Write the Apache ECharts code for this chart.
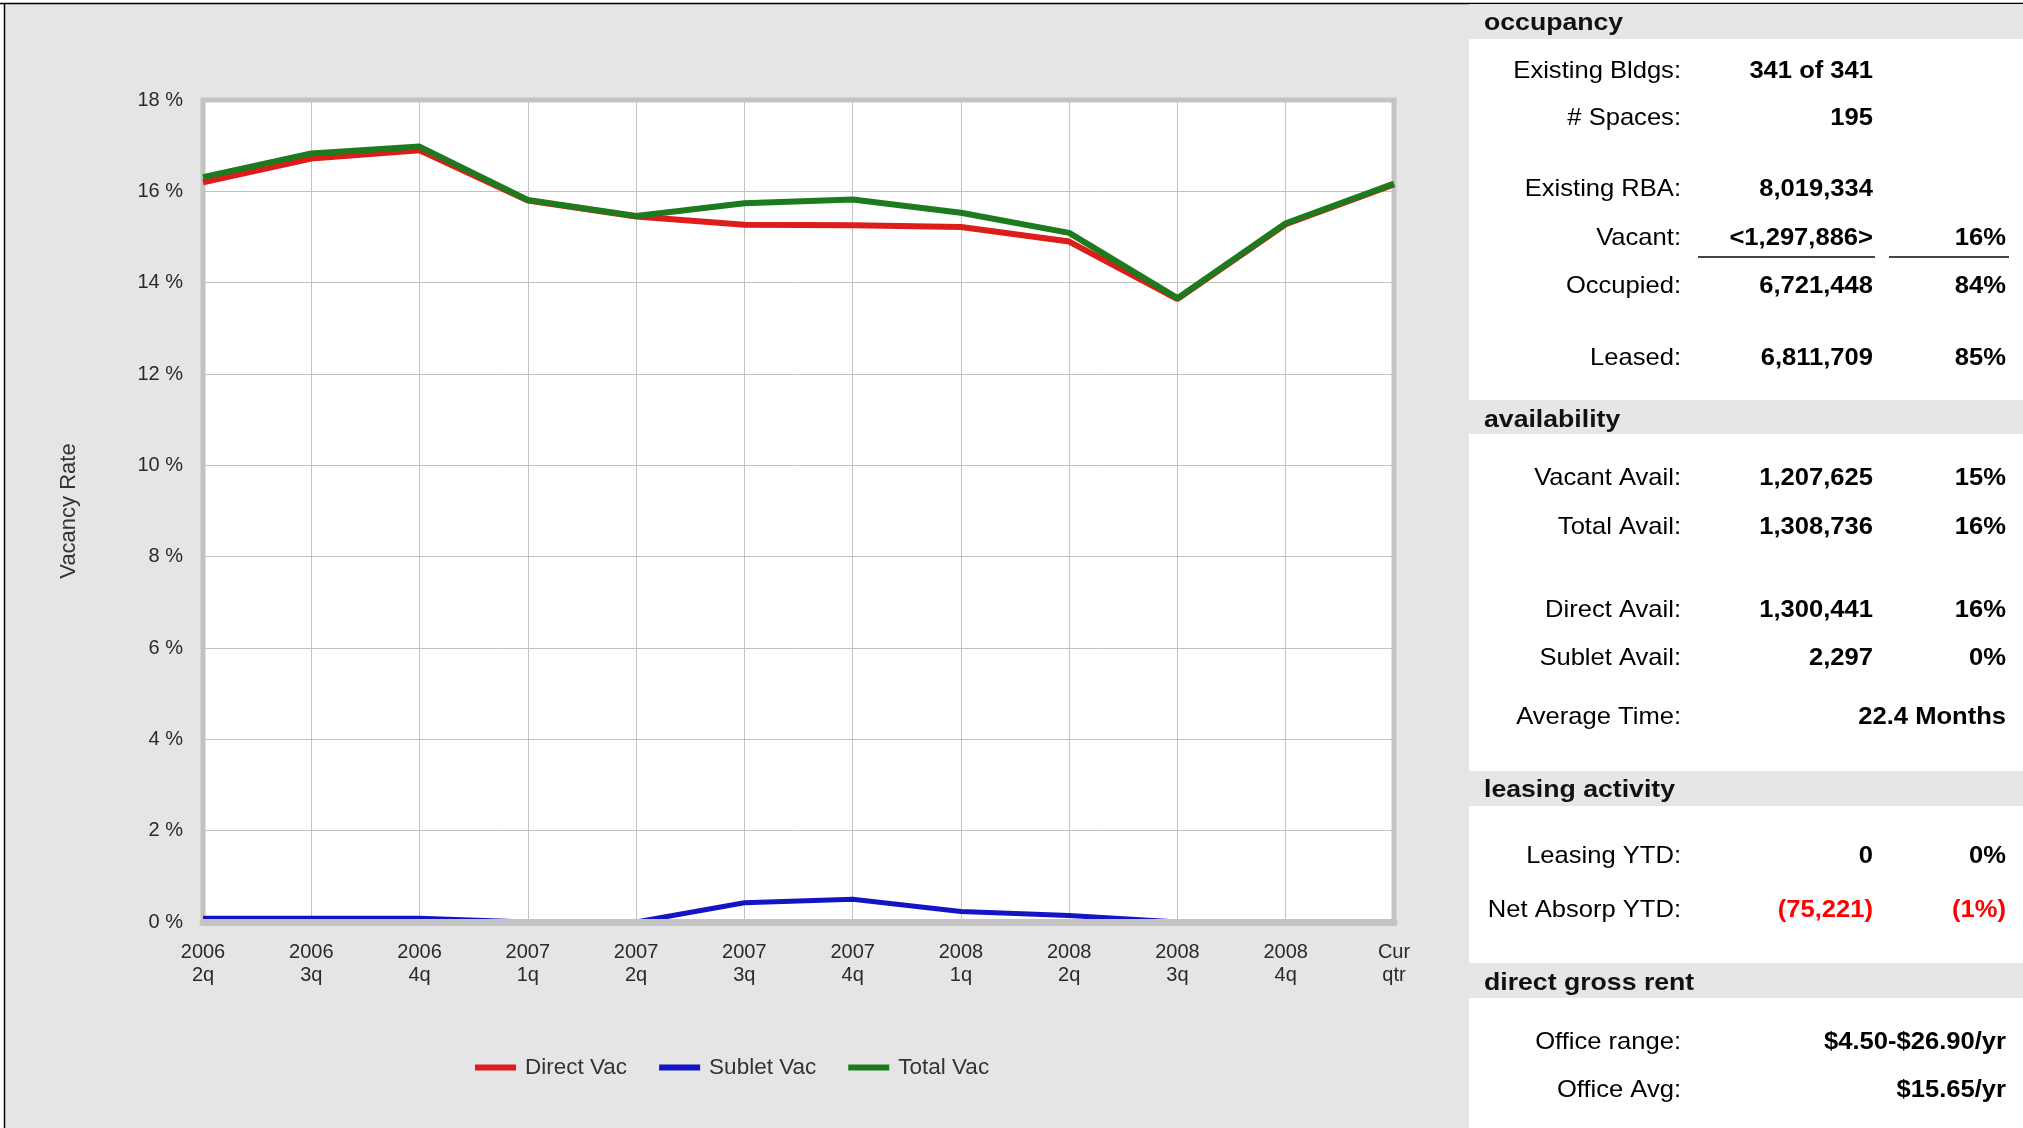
<!DOCTYPE html>
<html><head><meta charset="utf-8">
<script src="https://cdn.jsdelivr.net/npm/echarts@6/dist/echarts.min.js"></script>
<style>html,body{margin:0;padding:0;background:#fff;overflow:hidden}#c{width:2023px;height:1128px}</style>
</head><body><div id="c"></div>
<script>
// ---- chart data ----
const categories = ['2006\n2q','2006\n3q','2006\n4q','2007\n1q','2007\n2q','2007\n3q','2007\n4q','2008\n1q','2008\n2q','2008\n3q','2008\n4q','Cur\nqtr'];
const directVac = [16.20, 16.72, 16.90, 15.80, 15.45, 15.27, 15.26, 15.22, 14.90, 13.64, 15.28, 16.15];
const subletVac = [0.08, 0.08, 0.08, 0, 0, 0.42, 0.50, 0.23, 0.14, 0, 0, 0];
const totalVac  = [16.31, 16.83, 16.98, 15.81, 15.46, 15.74, 15.82, 15.53, 15.09, 13.66, 15.30, 16.17];
const seriesNames = ['Direct Vac', 'Sublet Vac', 'Total Vac'];
const yMin = 0, yMax = 18, yStep = 2;

// ---- side panel content ----
const sectionTitles = ['occupancy', 'availability', 'leasing activity', 'direct gross rent'];
const occupancyRows = [
  ['Existing Bldgs:', '341 of 341', ''],
  ['# Spaces:', '195', ''],
  ['Existing RBA:', '8,019,334', ''],
  ['Vacant:', '<1,297,886>', '16%'],
  ['Occupied:', '6,721,448', '84%'],
  ['Leased:', '6,811,709', '85%']
];
const availabilityRows = [
  ['Vacant Avail:', '1,207,625', '15%'],
  ['Total Avail:', '1,308,736', '16%'],
  ['Direct Avail:', '1,300,441', '16%'],
  ['Sublet Avail:', '2,297', '0%'],
  ['Average Time:', '', '22.4 Months']
];
const leasingRows = [
  ['Leasing YTD:', '0', '0%'],
  ['Net Absorp YTD:', '(75,221)', '(1%)']
];
const rentRows = [
  ['Office range:', '', '$4.50-$26.90/yr'],
  ['Office Avg:', '', '$15.65/yr']
];
const negativeRows = ['Net Absorp YTD:'];

// ---- layout (positions only) ----
const L = {
  panelX: 1469, headerTextX: 1484, labelRight: 1681, valueRight: 1873, pctRight: 2006,
  headerBands: [[4, 39], [400, 434], [771, 806], [963, 998]],
  headerTextY: [23, 420, 790, 983],
  rowY: [
    [71, 118, 189, 238, 286, 358],
    [478, 527, 610, 658, 717],
    [856, 910],
    [1042, 1090]
  ],
  underlineY: 257
};
const FONT = 'Liberation Sans, Arial, sans-serif';

function txt(text, x, y, align, bold, color, size, sx) {
  return {
    type: 'text', x: x, y: y, scaleX: sx || 1.065, silent: true, z: 100,
    style: {
      text: text, x: 0, y: 0, fill: color || '#000',
      font: (bold ? 'bold ' : '') + (size || 24) + 'px ' + FONT,
      textAlign: align, align: align, textVerticalAlign: 'middle', verticalAlign: 'middle'
    }
  };
}

const graphics = [];
graphics.push({type:'rect', shape:{x:0,y:0,width:2023,height:3}, style:{fill:'#fff'}, silent:true});
graphics.push({type:'rect', shape:{x:0,y:0,width:4,height:1128}, style:{fill:'#fff'}, silent:true});
graphics.push({type:'line', shape:{x1:0,y1:3.5,x2:2023,y2:3.5}, style:{stroke:'#000',lineWidth:1.5}, silent:true});
graphics.push({type:'line', shape:{x1:4.5,y1:3,x2:4.5,y2:1128}, style:{stroke:'#000',lineWidth:1.5}, silent:true});
graphics.push({type:'rect', shape:{x:L.panelX,y:4,width:2023-L.panelX,height:1124}, style:{fill:'#fff'}, silent:true});
L.headerBands.forEach(function (b) {
  graphics.push({type:'rect', shape:{x:L.panelX,y:b[0],width:2023-L.panelX,height:b[1]-b[0]}, style:{fill:'#e6e6e6'}, silent:true});
});
const sections = [occupancyRows, availabilityRows, leasingRows, rentRows];
sectionTitles.forEach(function (t, i) {
  graphics.push(txt(t, L.headerTextX, L.headerTextY[i], 'left', true, '#111', 24, 1.11));
  sections[i].forEach(function (r, j) {
    const y = L.rowY[i][j];
    const neg = negativeRows.indexOf(r[0]) >= 0;
    graphics.push(txt(r[0], L.labelRight, y, 'right', false, '#000'));
    if (r[1]) graphics.push(txt(r[1], L.valueRight, y, 'right', true, neg ? '#ff0000' : '#000'));
    if (r[2]) graphics.push(txt(r[2], L.pctRight, y, 'right', true, neg ? '#ff0000' : '#000'));
  });
});
graphics.push({type:'line', shape:{x1:1698,y1:L.underlineY,x2:1875,y2:L.underlineY}, style:{stroke:'#444',lineWidth:2}, silent:true});
graphics.push({type:'line', shape:{x1:1889,y1:L.underlineY,x2:2009,y2:L.underlineY}, style:{stroke:'#444',lineWidth:2}, silent:true});

const colors = ['#dd1c1c', '#1414c4', '#1e7a1e'];
const widths = [6, 5, 6];
const values = [directVac, subletVac, totalVac];

const chart = echarts.init(document.getElementById('c'), null, {renderer: 'canvas'});
chart.setOption({
  animation: false,
  backgroundColor: '#e5e5e5',
  textStyle: {fontFamily: FONT},
  grid: {left: 203, top: 100, right: 2023 - 1394, bottom: 1128 - 922, show: true,
         backgroundColor: '#fff', borderColor: '#c4c4c4', borderWidth: 5},
  legend: {
    left: 470, top: 1051, icon: 'rect', itemWidth: 41, itemHeight: 6, itemGap: 32,
    data: seriesNames,
    textStyle: {fontSize: 22.5, color: '#333', fontFamily: FONT, padding: [0, 0, 0, 4]}
  },
  xAxis: [{
    type: 'category', data: categories, boundaryGap: false,
    axisLine: {show: false}, axisTick: {show: false},
    axisLabel: {interval: 0, fontSize: 20, lineHeight: 23, color: '#2a2a2a', margin: 19, fontFamily: FONT},
    splitLine: {show: true, lineStyle: {color: '#c2c2c2', width: 1}}
  }, {
    type: 'category', data: categories, boundaryGap: false, position: 'bottom', z: 6,
    axisLine: {show: true, onZero: false, lineStyle: {color: '#c4c4c4', width: 7}},
    axisTick: {show: false}, axisLabel: {show: false}, splitLine: {show: false}
  }],
  yAxis: {
    type: 'value', min: yMin, max: yMax, interval: yStep,
    name: 'Vacancy Rate', nameLocation: 'middle', nameRotate: 90, nameGap: 123,
    nameTextStyle: {fontSize: 22, color: '#333', fontFamily: FONT},
    axisLine: {show: false}, axisTick: {show: false},
    axisLabel: {formatter: '{value} %', fontSize: 20, color: '#2a2a2a', margin: 20, fontFamily: FONT},
    splitLine: {show: true, lineStyle: {color: '#c2c2c2', width: 1}}
  },
  series: seriesNames.map(function (n, i) {
    return {
      name: n, type: 'line', data: values[i], xAxisIndex: 0, symbol: 'none', z: 2,
      lineStyle: {color: colors[i], width: widths[i]}, itemStyle: {color: colors[i]}
    };
  }),
  graphic: {elements: graphics}
});
</script></body></html>
